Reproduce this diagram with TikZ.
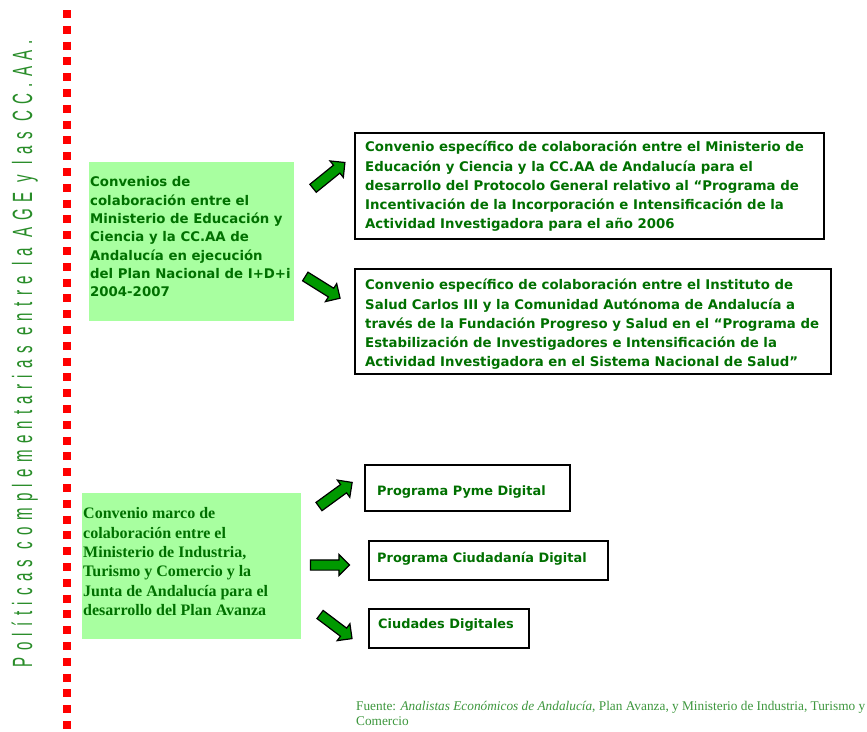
\documentclass[tikz,border=0pt]{standalone}
\usepackage{fontspec}
\usetikzlibrary{shapes.arrows}
\setmainfont{Liberation Serif}
\newfontfamily\tah{DejaVu Sans}
\newfontfamily\vfont[FakeStretch=0.6,LetterSpace=25]{Liberation Sans}
\definecolor{lgreen}{RGB}{168,255,160}
\definecolor{dgreen}{RGB}{0,112,0}
\definecolor{vgreen}{RGB}{40,140,40}
\definecolor{fgreen}{RGB}{60,150,60}
\definecolor{agreen}{RGB}{0,153,0}
\tikzset{
  greenbox/.style={fill=lgreen, draw=none, anchor=north west, inner sep=0pt},
  whitebox/.style={draw=black, line width=1.6pt, fill=white, anchor=north west, inner sep=0pt},
  tahl/.style={anchor=north west, inner sep=0pt, align=left, text=dgreen, font=\tah\bfseries\fontsize{13.3}{18.33}\selectfont},
  tahr/.style={anchor=north west, inner sep=0pt, align=left, text=dgreen, font=\tah\bfseries\fontsize{13.3}{19.25}\selectfont},
  tahone/.style={anchor=base west, inner sep=0pt, text=dgreen, font=\tah\bfseries\fontsize{12.9}{16}\selectfont},
  timesl/.style={anchor=north west, inner sep=0pt, align=left, text=dgreen, font=\bfseries\fontsize{16}{19.3}\selectfont},
  blockarrow/.style={single arrow, draw=black, line width=1.2pt, fill=agreen, text height=4.5pt, text depth=4.5pt,
     minimum height=41pt, single arrow head extend=5.5pt, inner sep=0pt, single arrow head indent=0pt}
}
\newcommand{\tstrut}{\rule{0pt}{11pt}}
\begin{document}
\begin{tikzpicture}[x=1pt,y=-1pt]
\useasboundingbox (0,0) rectangle (867,731);
% red dotted line
\draw[red, line width=8pt, dash pattern=on 8pt off 7.8pt] (67,10) -- (67,729);
% vertical title
\node[rotate=90, anchor=base, inner sep=0pt, text=vgreen] (vt) at (32,353.5)
  {\resizebox{627pt}{20.5pt}{\vfont Políticas complementarias entre la AGE y las CC.AA.}};
% upper group
\node[greenbox, minimum width=205pt, minimum height=159pt] (g1) at (89,162) {};
\node[tahl] (g1t) at (90,175.7) {\tstrut Convenios de\\colaboración entre el\\Ministerio de Educación y\\Ciencia y la CC.AA de\\Andalucía en ejecución\\del Plan Nacional de I+D+i\\2004-2007};
\node[whitebox, minimum width=469pt, minimum height=106pt] (b1) at (354,132) {};
\node[tahr] (b1t) at (365,140.7)
  {\tstrut Convenio específico de colaboración entre el Ministerio de\\Educación y Ciencia y la CC.AA de Andalucía para el\\desarrollo del Protocolo General relativo al “Programa de\\Incentivación de la Incorporación e Intensificación de la\\Actividad Investigadora para el año 2006};
\node[whitebox, minimum width=476pt, minimum height=105pt] (b2) at (354,268) {};
\node[tahr] (b2t) at (365,278.7)
  {\tstrut Convenio específico de colaboración entre el Instituto de\\Salud Carlos III y la Comunidad Autónoma de Andalucía a\\través de la Fundación Progreso y Salud en el “Programa de\\Estabilización de Investigadores e Intensificación de la\\Actividad Investigadora en el Sistema Nacional de Salud”};
\node[blockarrow, rotate=39] (a1) at (327,177) {};
\node[blockarrow, rotate=-32] (a2) at (320.5,286) {};
% lower group
\node[greenbox, minimum width=219pt, minimum height=146pt] (g2) at (82,493) {};
\node[timesl] (g2t) at (83,507.6) {Convenio marco de\\colaboración entre el\\Ministerio de Industria,\\Turismo y Comercio y la\\Junta de Andalucía para el\\desarrollo del Plan Avanza};
\node[whitebox, minimum width=205pt, minimum height=46pt] (p1) at (364,464) {};
\node[tahone] (p1t) at (377,495.5) {Programa Pyme Digital};
\node[whitebox, minimum width=239pt, minimum height=39pt] (p2) at (368,540) {};
\node[tahone] (p2t) at (377,562.5) {Programa Ciudadanía Digital};
\node[whitebox, minimum width=160pt, minimum height=39pt] (p3) at (368,608) {};
\node[tahone] (p3t) at (378,628.5) {Ciudades Digitales};
\node[blockarrow, rotate=36] (a3) at (333.5,496) {};
\node[blockarrow, rotate=0, minimum height=39pt] (a4) at (327.5,565) {};
\node[blockarrow, rotate=-37, minimum height=40pt] (a5) at (334,625) {};
% source
\node[anchor=north west, inner sep=0pt, align=left, text=fgreen, font=\fontsize{13.3}{15}\selectfont] (src) at (356,701.5)
  {Fuente: \textit{Analistas Económicos de Andalucía}, Plan Avanza, y Ministerio de Industria, Turismo y\\Comercio};
\end{tikzpicture}
\end{document}
